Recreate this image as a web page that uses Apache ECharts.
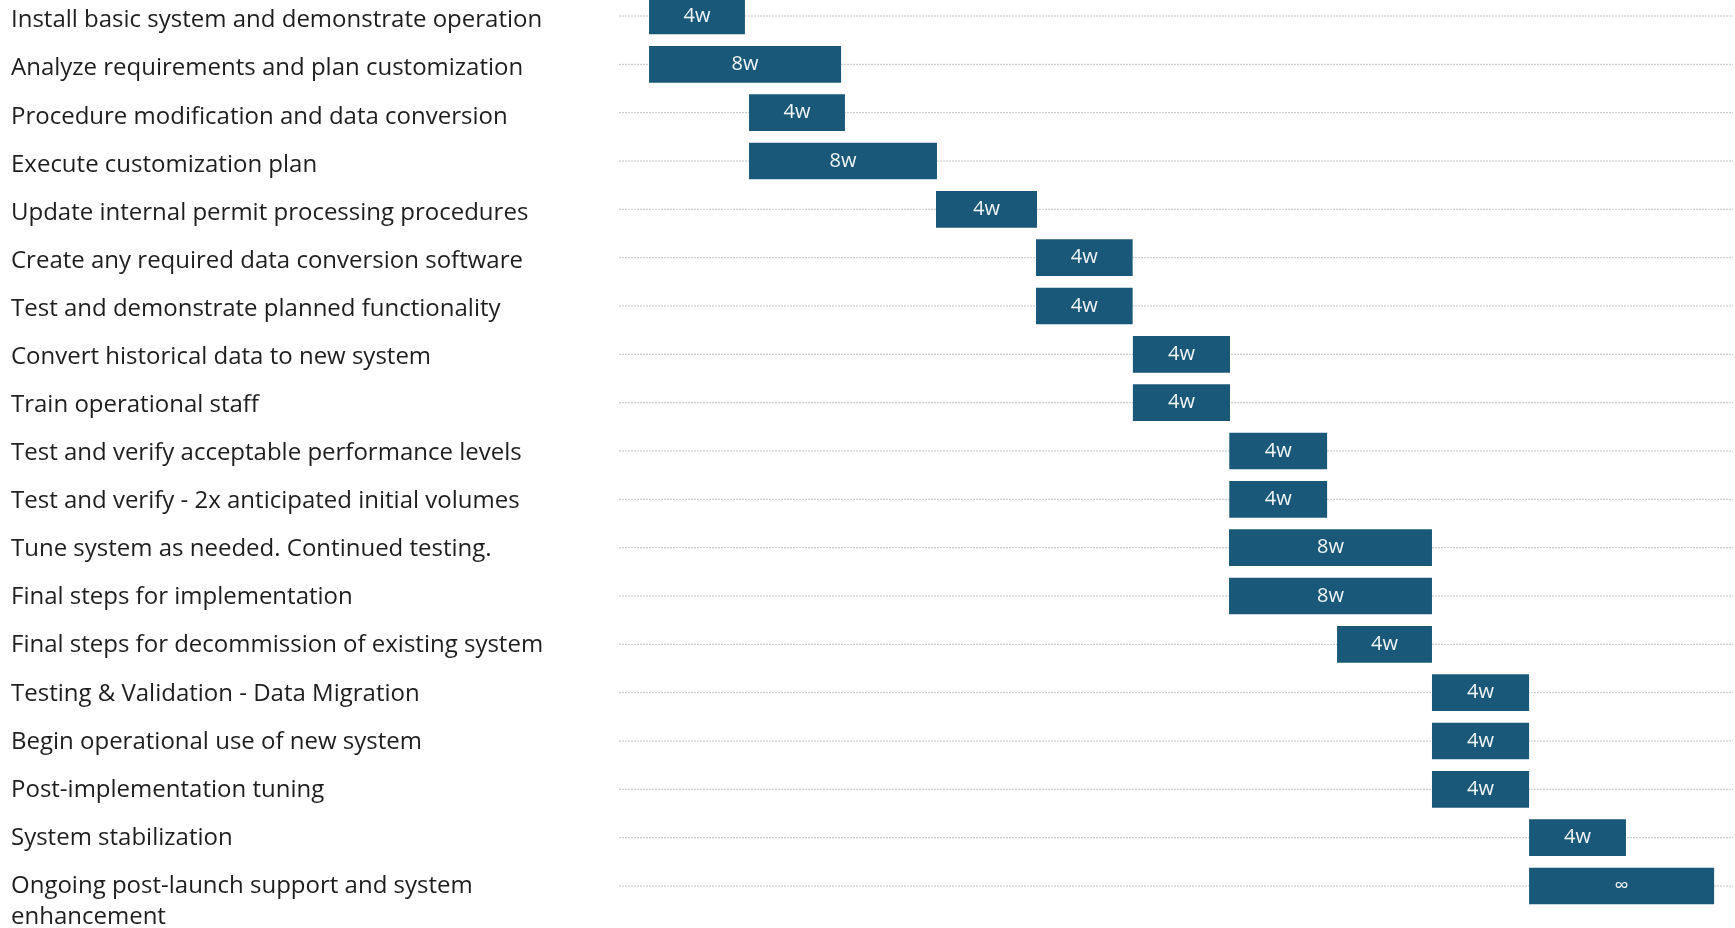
<!DOCTYPE html>
<html>
<head>
<meta charset="utf-8">
<title>Implementation timeline</title>
<script src="https://cdn.jsdelivr.net/npm/echarts@6/dist/echarts.min.js"></script>
<style>
  html, body { margin: 0; padding: 0; background: #fff; }
  #chart { width: 1735px; height: 928px; }
</style>
</head>
<body>
<div id="chart"></div>
<script>
// task rows, top to bottom
var taskNames = [
  'Install basic system and demonstrate operation',
  'Analyze requirements and plan customization',
  'Procedure modification and data conversion',
  'Execute customization plan',
  'Update internal permit processing procedures',
  'Create any required data conversion software',
  'Test and demonstrate planned functionality',
  'Convert historical data to new system',
  'Train operational staff',
  'Test and verify acceptable performance levels',
  'Test and verify - 2x anticipated initial volumes',
  'Tune system as needed. Continued testing.',
  'Final steps for implementation',
  'Final steps for decommission of existing system',
  'Testing & Validation - Data Migration',
  'Begin operational use of new system',
  'Post-implementation tuning',
  'System stabilization',
  'Ongoing post-launch support and system enhancement'
];
// start / end in weeks from project start
var startWeek = [1.24, 1.24, 5.37, 5.37, 13.09, 17.22, 17.22, 21.22, 21.22, 25.2, 25.2, 25.19, 25.19, 29.65, 33.57, 33.57, 33.57, 37.58, 37.58];
var endWeek   = [5.2, 9.17, 9.33, 13.13, 17.26, 21.21, 21.21, 25.23, 25.23, 29.24, 29.24, 33.57, 33.57, 33.57, 37.58, 37.58, 37.58, 41.58, 45.22];
var durationLabels = ['4w', '8w', '4w', '8w', '4w', '4w', '4w', '4w', '4w', '4w', '4w', '8w', '8w', '4w', '4w', '4w', '4w', '4w', '\u221e'];
var weekMax = 46;

var chart = echarts.init(document.getElementById('chart'));

var seriesData = [];
taskNames.forEach(function (name, i) {
  seriesData.push([i, startWeek[i], endWeek[i], durationLabels[i], name]);
});

var labelX = 11;
var lineH = 31;

var renderTask = function (params, api) {
  var row = api.value(0);
  var n = params.dataInsideLength;
  var left = api.coord([0, row]);
  var right = api.coord([weekMax, row]);
  var p0 = api.coord([api.value(1), row]);
  var p1 = api.coord([api.value(2), row]);
  var h = 36.7;
  // label column is a bit lower than the row lines near the top
  var shift = 4.5 * (1 - row / (n - 1));
  var wrapped = row === n - 1;
  return {
    type: 'group',
    children: [
      {
        type: 'line',
        shape: { x1: left[0], y1: left[1], x2: right[0], y2: right[1] },
        style: { stroke: '#c4c4c4', lineWidth: 1, lineDash: [2, 1] },
        z2: 0
      },
      {
        type: 'text',
        x: labelX,
        y: wrapped ? left[1] - lineH / 2 : left[1] + shift,
        style: {
          text: api.value(4),
          fill: '#1e1e1e',
          fontSize: 24,
          fontFamily: 'Open Sans',
          align: 'left',
          verticalAlign: wrapped ? 'top' : 'middle',
          lineHeight: lineH,
          width: 580,
          overflow: 'break'
        }
      },
      {
        type: 'rect',
        shape: { x: p0[0], y: p0[1] - h / 2, width: p1[0] - p0[0], height: h },
        style: { fill: '#1a5879' },
        z2: 5,
        textContent: {
          style: {
            text: api.value(3),
            fill: '#f2f5f7',
            fontSize: 20,
            fontFamily: 'Open Sans'
          }
        },
        textConfig: { position: 'inside' }
      }
    ]
  };
};

var option = {
  backgroundColor: '#fff',
  animation: false,
  grid: { left: 619, right: 2, top: 16, bottom: 42, containLabel: false, outerBoundsMode: 'none' },
  xAxis: { type: 'value', min: 0, max: weekMax, show: false },
  yAxis: {
    type: 'category',
    inverse: true,
    boundaryGap: false,
    data: taskNames,
    axisLine: { show: false },
    axisTick: { show: false },
    splitLine: { show: false },
    axisLabel: { show: false }
  },
  series: [
    {
      type: 'custom',
      renderItem: renderTask,
      encode: { x: [1, 2], y: 0 },
      data: seriesData
    }
  ]
};
chart.setOption(option);
</script>
</body>
</html>
